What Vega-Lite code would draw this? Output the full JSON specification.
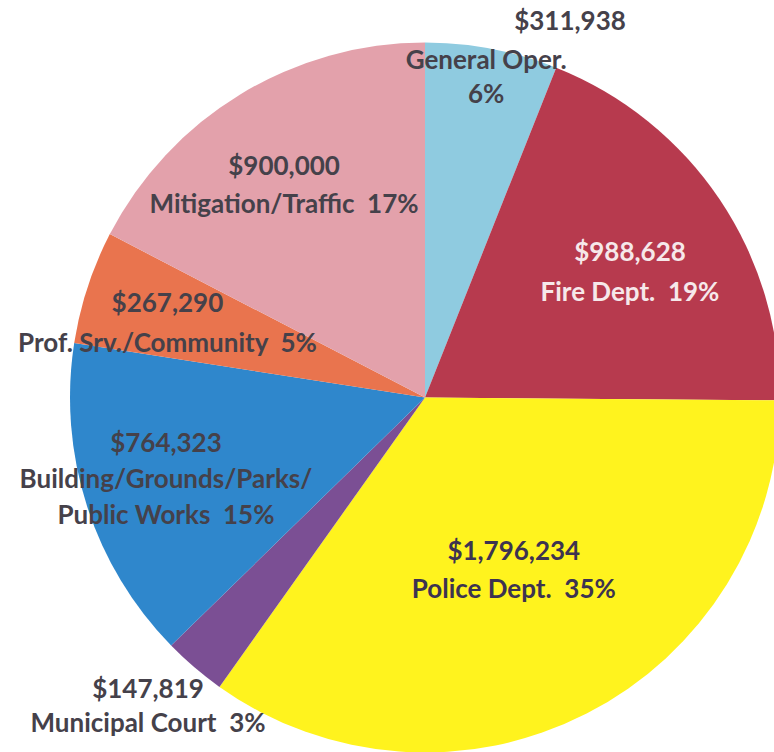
{
  "$schema": "https://vega.github.io/schema/vega-lite/v6.json",
  "width": 698,
  "height": 709,
  "autosize": "none",
  "padding": {"left": 76, "top": 43, "right": 0, "bottom": 0},
  "background": "white",
  "config": {"view": {"stroke": null}},
  "data": {
    "values": [
      {"idx": 1, "name": "General Oper.", "value": 311938, "label": "General Oper.\n6%", "extra": "$311,938"},
      {"idx": 2, "name": "Fire Dept.", "value": 988628, "label": "$988,628\nFire Dept. \u00a019%", "extra": ""},
      {"idx": 3, "name": "Police Dept.", "value": 1796234, "label": "$1,796,234\nPolice Dept. \u00a035%", "extra": ""},
      {"idx": 4, "name": "Municipal Court", "value": 147819, "label": "$147,819\nMunicipal Court \u00a03%", "extra": ""},
      {"idx": 5, "name": "Building/Grounds/Parks/Public Works", "value": 764323, "label": "$764,323\nBuilding/Grounds/Parks/\nPublic Works \u00a015%", "extra": ""},
      {"idx": 6, "name": "Prof. Srv./Community", "value": 267290, "label": "$267,290\nProf. Srv./Community \u00a05%", "extra": ""},
      {"idx": 7, "name": "Mitigation/Traffic", "value": 900000, "label": "$900,000\nMitigation/Traffic \u00a017%", "extra": ""}
    ]
  },
  "encoding": {
    "theta": {"field": "value", "type": "quantitative", "stack": true},
    "order": {"field": "idx", "type": "quantitative"}
  },
  "layer": [
    {
      "mark": {"type": "arc", "radius": 355},
      "encoding": {
        "color": {
          "field": "name", "type": "nominal", "legend": null,
          "scale": {
            "domain": ["General Oper.", "Fire Dept.", "Police Dept.", "Municipal Court", "Building/Grounds/Parks/Public Works", "Prof. Srv./Community", "Mitigation/Traffic"],
            "range": ["#8fcbe0", "#b73a4e", "#fff31e", "#7b4f94", "#2f87cc", "#e9744e", "#e3a1ab"]
          }
        }
      }
    },
    {
      "mark": {"type": "text", "radius": 254, "dx": -9, "dy": -13, "lineBreak": "\n", "lineHeight": 38, "font": "Lato", "fontWeight": "bold", "fontSize": 26, "fill": "#45414a", "align": "center", "baseline": "middle"},
      "encoding": {"text": {"condition": {"test": "datum.idx === 7", "field": "label"}, "value": ""}}
    },
    {
      "mark": {"type": "text", "radius": 241, "dx": 5, "dy": -10, "lineBreak": "\n", "lineHeight": 40, "font": "Lato", "fontWeight": "bold", "fontSize": 26, "fill": "#f6e8ea", "align": "center", "baseline": "middle"},
      "encoding": {"text": {"condition": {"test": "datum.idx === 2", "field": "label"}, "value": ""}}
    },
    {
      "mark": {"type": "text", "radius": 195, "dy": -19, "lineBreak": "\n", "lineHeight": 38, "font": "Lato", "fontWeight": "bold", "fontSize": 26, "fill": "#3d3350", "align": "center", "baseline": "middle"},
      "encoding": {"text": {"condition": {"test": "datum.idx === 3", "field": "label"}, "value": ""}}
    },
    {
      "mark": {"type": "text", "radius": 414, "dx": -8, "dy": -22, "lineBreak": "\n", "lineHeight": 34, "font": "Lato", "fontWeight": "bold", "fontSize": 26, "fill": "#45414a", "align": "center", "baseline": "middle"},
      "encoding": {"text": {"condition": {"test": "datum.idx === 4", "field": "label"}, "value": ""}}
    },
    {
      "mark": {"type": "text", "radius": 272, "dy": -36, "lineBreak": "\n", "lineHeight": 36, "font": "Lato", "fontWeight": "bold", "fontSize": 26, "fill": "#45414a", "align": "center", "baseline": "middle"},
      "encoding": {"text": {"condition": {"test": "datum.idx === 5", "field": "label"}, "value": ""}}
    },
    {
      "mark": {"type": "text", "radius": 271, "dy": -9, "lineBreak": "\n", "lineHeight": 40, "font": "Lato", "fontWeight": "bold", "fontSize": 26, "fill": "#45414a", "align": "center", "baseline": "middle"},
      "encoding": {"text": {"condition": {"test": "datum.idx === 6", "field": "label"}, "value": ""}}
    },
    {
      "mark": {"type": "text", "radius": 325, "dy": -17, "lineBreak": "\n", "lineHeight": 34, "font": "Lato", "fontWeight": "bold", "fontSize": 26, "fill": "#45414a", "align": "center", "baseline": "middle"},
      "encoding": {"text": {"condition": {"test": "datum.idx === 1", "field": "label"}, "value": ""}}
    },
    {
      "mark": {"type": "text", "radius": 404, "dx": 69, "dy": 21, "font": "Lato", "fontWeight": "bold", "fontSize": 26, "fill": "#45414a", "align": "center", "baseline": "middle"},
      "encoding": {"text": {"field": "extra"}}
    }
  ]
}
